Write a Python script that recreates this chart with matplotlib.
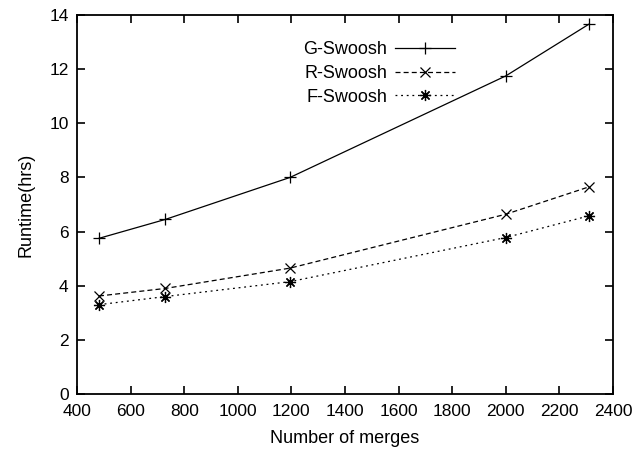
import matplotlib.pyplot as plt

plt.rcParams['font.family'] = ['Liberation Sans', 'DejaVu Sans']

merges = [482, 730, 1195, 2000, 2310]
g_swoosh = [5.75, 6.45, 8.0, 11.75, 13.66]
r_swoosh = [3.62, 3.9, 4.65, 6.64, 7.65]
f_swoosh = [3.3, 3.6, 4.15, 5.78, 6.58]

fig = plt.figure(figsize=(6.43, 4.49), dpi=100)
ax = fig.add_axes([77 / 643, 1 - 394 / 449, 536 / 643, 379 / 449])

ax.plot(merges, g_swoosh, '-', color='black', lw=0.9, marker='+', ms=9, mew=0.9, label='G-Swoosh')
ax.plot(merges, r_swoosh, color='black', lw=0.9, dashes=(4, 2.5), marker='x', ms=7, mew=0.9, label='R-Swoosh')
ax.plot(merges, f_swoosh, color='black', lw=0.9, dashes=(1.5, 3), marker=(8, 2, 0), ms=8, mew=0.9, label='F-Swoosh')

ax.set_xlim(400, 2400)
ax.set_ylim(0, 14)
ax.set_xticks(range(400, 2401, 200))
ax.set_yticks(range(0, 15, 2))
ax.tick_params(direction='in', top=True, right=True, length=6, width=1.2, labelsize=12.5)
ax.tick_params(axis='x', pad=7)
ax.tick_params(axis='y', pad=6)
for s in ax.spines.values():
    s.set_linewidth(1.3)

ax.set_xlabel('Number of merges', fontsize=13, labelpad=8)
ax.set_ylabel('Runtime(hrs)', fontsize=13, labelpad=11)

ax.legend(loc='upper right', bbox_to_anchor=(455 / 643, 1 - 41 / 449), bbox_transform=fig.transFigure,
          frameon=False, markerfirst=False, handlelength=3.3, fontsize=13, labelspacing=0.38,
          handletextpad=0.45, borderaxespad=0, borderpad=0)

fig.savefig('out.png', dpi=100)
